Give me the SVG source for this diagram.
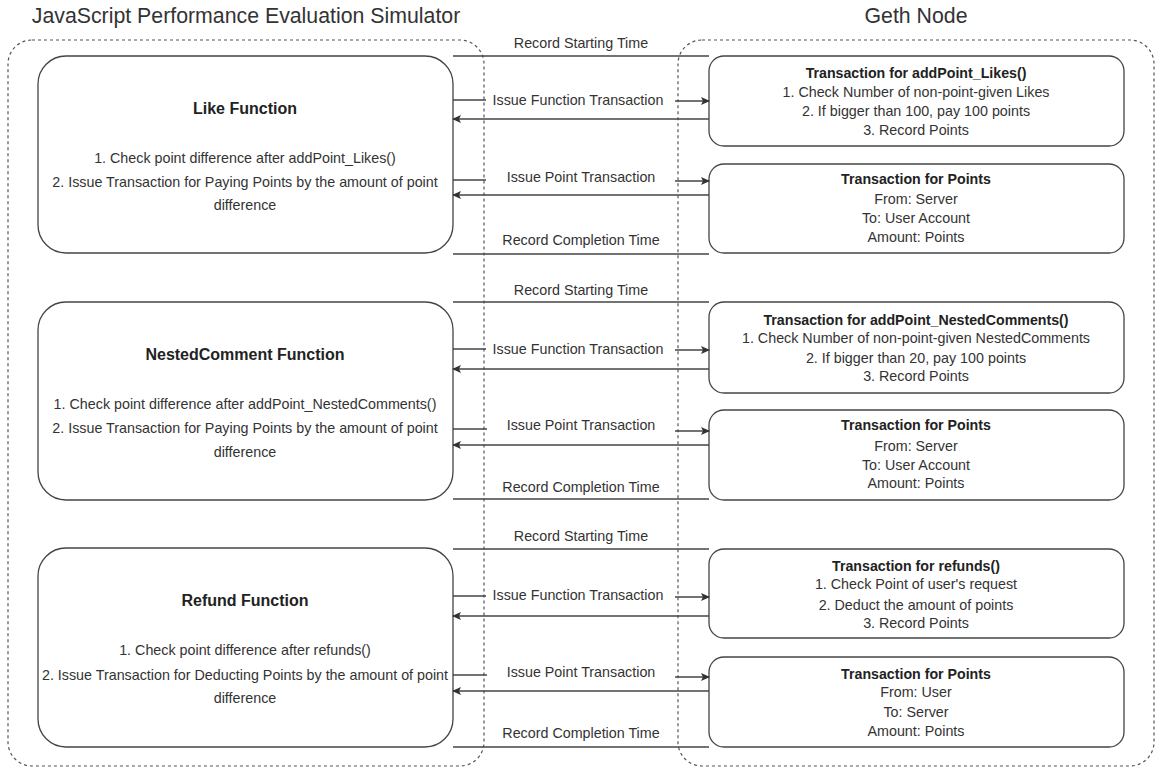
<svg xmlns="http://www.w3.org/2000/svg" width="1155" height="768" viewBox="0 0 1155 768">
<style>
text{font-family:"Liberation Sans",Arial,sans-serif;fill:#333;text-anchor:middle}
.ttl{font-size:21.3px}
.fn{font-size:16px;font-weight:bold;fill:#222}
.t{font-size:14.3px}
.b{font-size:14.2px;font-weight:bold;fill:#222}
.cont{fill:none;stroke:#555;stroke-width:1.2;stroke-dasharray:3 3}
.box{fill:#fff;stroke:#444;stroke-width:1.3}
.ln{fill:none;stroke:#444;stroke-width:1.3}
.ar{fill:none;stroke:#444;stroke-width:1.3;marker-end:url(#ah)}
</style>
<defs>
<marker id="ah" markerWidth="10" markerHeight="10" refX="8" refY="4" orient="auto" markerUnits="userSpaceOnUse">
<path d="M0,0 L9,4 L0,8 L2,4 z" fill="#333"/>
</marker>
</defs>
<rect width="1155" height="768" fill="#fff"/>
<g id="titles">
<text class="ttl" x="246" y="23">JavaScript Performance Evaluation Simulator</text>
<text class="ttl" x="916" y="23">Geth Node</text>
</g>
<g id="containers">
<rect class="cont" x="8" y="40" width="476" height="726" rx="24"/>
<rect class="cont" x="678" y="40" width="476" height="726" rx="24"/>
</g>
<g id="like-function">
<rect class="box" x="38" y="56" width="415" height="197" rx="28"/>
<text class="fn" x="245" y="114">Like Function</text>
<text class="t" x="245" y="163">1. Check point difference after addPoint_Likes()</text>
<text class="t" x="245" y="187">2. Issue Transaction for Paying Points by the amount of point</text>
<text class="t" x="245" y="210">difference</text>
</g>
<g id="tx-likes">
<rect class="box" x="709" y="56" width="415" height="90" rx="15"/>
<text class="b" x="916" y="78">Transaction for addPoint_Likes()</text>
<text class="t" x="916" y="97">1. Check Number of non-point-given Likes</text>
<text class="t" x="916" y="116">2. If bigger than 100, pay 100 points</text>
<text class="t" x="916" y="135">3. Record Points</text>
</g>
<g id="tx-points-1">
<rect class="box" x="709" y="164" width="415" height="89" rx="15"/>
<text class="b" x="916" y="184">Transaction for Points</text>
<text class="t" x="916" y="204">From: Server</text>
<text class="t" x="916" y="223">To: User Account</text>
<text class="t" x="916" y="242">Amount: Points</text>
</g>
<g id="nested-function">
<rect class="box" x="38" y="302" width="415" height="198" rx="28"/>
<text class="fn" x="245" y="360">NestedComment Function</text>
<text class="t" x="245" y="409">1. Check point difference after addPoint_NestedComments()</text>
<text class="t" x="245" y="433">2. Issue Transaction for Paying Points by the amount of point</text>
<text class="t" x="245" y="457">difference</text>
</g>
<g id="tx-nested">
<rect class="box" x="709" y="302" width="415" height="91" rx="15"/>
<text class="b" x="916" y="325">Transaction for addPoint_NestedComments()</text>
<text class="t" x="916" y="343">1. Check Number of non-point-given NestedComments</text>
<text class="t" x="916" y="363">2. If bigger than 20, pay 100 points</text>
<text class="t" x="916" y="381">3. Record Points</text>
</g>
<g id="tx-points-2">
<rect class="box" x="709" y="410" width="415" height="90" rx="15"/>
<text class="b" x="916" y="430">Transaction for Points</text>
<text class="t" x="916" y="451">From: Server</text>
<text class="t" x="916" y="470">To: User Account</text>
<text class="t" x="916" y="488">Amount: Points</text>
</g>
<g id="refund-function">
<rect class="box" x="38" y="548" width="415" height="199" rx="28"/>
<text class="fn" x="245" y="606">Refund Function</text>
<text class="t" x="245" y="655">1. Check point difference after refunds()</text>
<text class="t" x="245" y="680">2. Issue Transaction for Deducting Points by the amount of point</text>
<text class="t" x="245" y="703">difference</text>
</g>
<g id="tx-refunds">
<rect class="box" x="709" y="549" width="415" height="89" rx="15"/>
<text class="b" x="916" y="571">Transaction for refunds()</text>
<text class="t" x="916" y="589">1. Check Point of user's request</text>
<text class="t" x="916" y="610">2. Deduct the amount of points</text>
<text class="t" x="916" y="628">3. Record Points</text>
</g>
<g id="tx-points-3">
<rect class="box" x="709" y="657" width="415" height="90" rx="15"/>
<text class="b" x="916" y="679">Transaction for Points</text>
<text class="t" x="916" y="697">From: User</text>
<text class="t" x="916" y="717">To: Server</text>
<text class="t" x="916" y="736">Amount: Points</text>
</g>
<g id="connectors">
<line class="ln" x1="453" y1="56" x2="709" y2="56"/>
<line class="ln" x1="453" y1="100" x2="486" y2="100"/>
<line class="ar" x1="675" y1="101" x2="709" y2="101"/>
<line class="ar" x1="709" y1="119" x2="453" y2="119"/>
<line class="ln" x1="453" y1="180" x2="486" y2="180"/>
<line class="ar" x1="675" y1="181" x2="709" y2="181"/>
<line class="ar" x1="709" y1="195" x2="453" y2="195"/>
<line class="ln" x1="453" y1="254" x2="709" y2="254"/>

<line class="ln" x1="453" y1="302" x2="709" y2="302"/>
<line class="ln" x1="453" y1="349" x2="486" y2="349"/>
<line class="ar" x1="675" y1="350" x2="709" y2="350"/>
<line class="ar" x1="709" y1="369" x2="453" y2="369"/>
<line class="ln" x1="453" y1="429" x2="487" y2="429"/>
<line class="ar" x1="675" y1="431" x2="709" y2="431"/>
<line class="ar" x1="709" y1="445" x2="453" y2="445"/>
<line class="ln" x1="453" y1="499" x2="709" y2="499"/>

<line class="ln" x1="453" y1="549" x2="709" y2="549"/>
<line class="ln" x1="453" y1="596" x2="486" y2="596"/>
<line class="ar" x1="675" y1="597" x2="709" y2="597"/>
<line class="ar" x1="709" y1="616" x2="453" y2="616"/>
<line class="ln" x1="453" y1="675" x2="487" y2="675"/>
<line class="ar" x1="675" y1="677" x2="709" y2="677"/>
<line class="ar" x1="709" y1="691" x2="453" y2="691"/>
<line class="ln" x1="453" y1="747" x2="709" y2="747"/>

<text class="t" x="581" y="48">Record Starting Time</text>
<text class="t" x="578" y="105">Issue Function Transaction</text>
<text class="t" x="581" y="182">Issue Point Transaction</text>
<text class="t" x="581" y="245">Record Completion Time</text>
<text class="t" x="581" y="295">Record Starting Time</text>
<text class="t" x="578" y="354">Issue Function Transaction</text>
<text class="t" x="581" y="430">Issue Point Transaction</text>
<text class="t" x="581" y="492">Record Completion Time</text>
<text class="t" x="581" y="541">Record Starting Time</text>
<text class="t" x="578" y="600">Issue Function Transaction</text>
<text class="t" x="581" y="677">Issue Point Transaction</text>
<text class="t" x="581" y="738">Record Completion Time</text>
</g>
</svg>
